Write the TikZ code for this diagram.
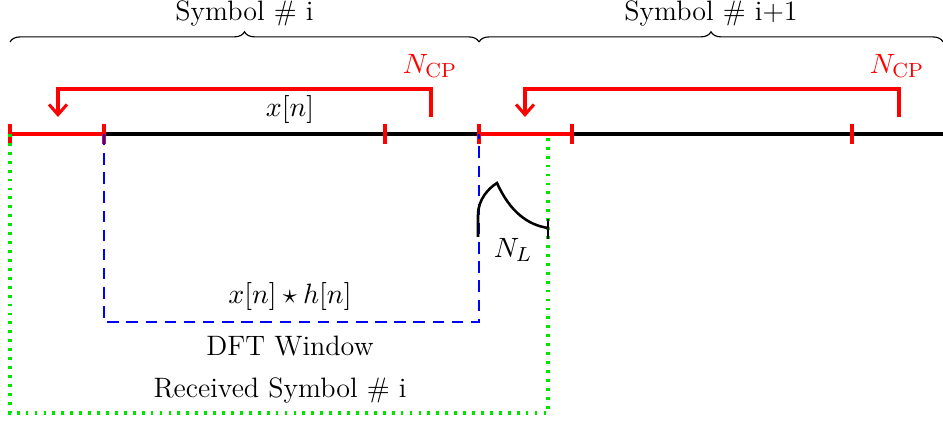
\documentclass[tikz,border=0pt]{standalone}
\usetikzlibrary{arrows.meta,decorations.pathreplacing}
\begin{document}
\begin{tikzpicture}[x=0.392pt,y=-0.392pt,
  axis/.style={line width=1.3pt,black},
  cp/.style={line width=1.3pt,red},
  tick/.style={line width=1.3pt,red},
  cparrow/.style={cp,-{Straight Barb[length=4pt,width=7pt,line width=1.2pt]}},
  brc/.style={decorate,decoration={brace,amplitude=4pt},line width=0.45pt},
  lbl/.style={inner sep=0pt,font=\fontsize{11}{13}\selectfont},
  dftwin/.style={blue,line width=0.7pt,dash pattern=on 4.5pt off 3pt},
  rxwin/.style={green!90!black,line width=1.2pt,dash pattern=on 1.1pt off 2.4pt},
  chan/.style={line width=1pt,black}]
\useasboundingbox (0,0) rectangle (943,421);
% tick coordinates on the time axis
\coordinate (t0) at (10,134);
\coordinate (t1) at (104,134);
\coordinate (t2) at (385,134);
\coordinate (t3) at (479,134);
\coordinate (t4) at (572,134);
\coordinate (t5) at (852,134);
\coordinate (tend) at (943,134);
\coordinate (g1) at (548,134);
% axis
\draw[axis] (t0) -- (tend);
\draw[cp] (t0) -- (t1);
\draw[cp] (t3) -- (t4);
\foreach \t in {t0,t1,t2,t3,t4,t5}{
  \draw[tick] ([yshift=-10*0.392pt]\t) -- ([yshift=10*0.392pt]\t);
}
% braces
\coordinate (b0) at (10,42);
\coordinate (b1) at (479,42);
\coordinate (b2) at (943,42);
\draw[brc] (b0) -- (b1) node[midway,above=6pt,lbl] (s1) {Symbol \# i};
\draw[brc] (b1) -- (b2) node[midway,above=6pt,lbl] (s2) {Symbol \# i+1};
% cyclic prefix arrows
\coordinate (c1a) at (431,117);
\coordinate (c1b) at (58,117);
\coordinate (c2a) at (899,117);
\coordinate (c2b) at (525,117);
\draw[cparrow] (c1a) -- (431,89) -- (58,89) -- (c1b);
\draw[cparrow] (c2a) -- (899,89) -- (525,89) -- (c2b);
\node[lbl,red] (n1) at (430,66) {$N_{\mathrm{CP}}$};
\node[lbl,red] (n2) at (897,66) {$N_{\mathrm{CP}}$};
\node[lbl] (xn) at (290,110) {$x[n]$};
% DFT window
\coordinate (d0) at (104,322);
\coordinate (d1) at (479,322);
\draw[dftwin] (t1) -- (d0) -- (d1) -- (t3);
\node[lbl] (xh) at (290,297) {$x[n]\star h[n]$};
\node[lbl] (dft) at (290,346) {DFT Window};
% received symbol window
\coordinate (r0) at (10,413);
\coordinate (r1) at (548,413);
\draw[rxwin] (t0) -- (r0) -- (r1) -- (g1);
\node[lbl] (rx) at (280,390) {Received Symbol \# i};
% channel impulse response
\coordinate (h0) at (478,237);
\coordinate (hp) at (497,183);
\coordinate (h1) at (548,228);
\draw[chan] (h0) -- (478,215) .. controls (478,199) and (489,188) .. (hp)
  .. controls (510,212) and (528,225) .. (h1);
\draw[chan] (548,219) -- (548,239);
\node[lbl] (nl) at (513,250) {$N_L$};
\end{tikzpicture}
\end{document}
